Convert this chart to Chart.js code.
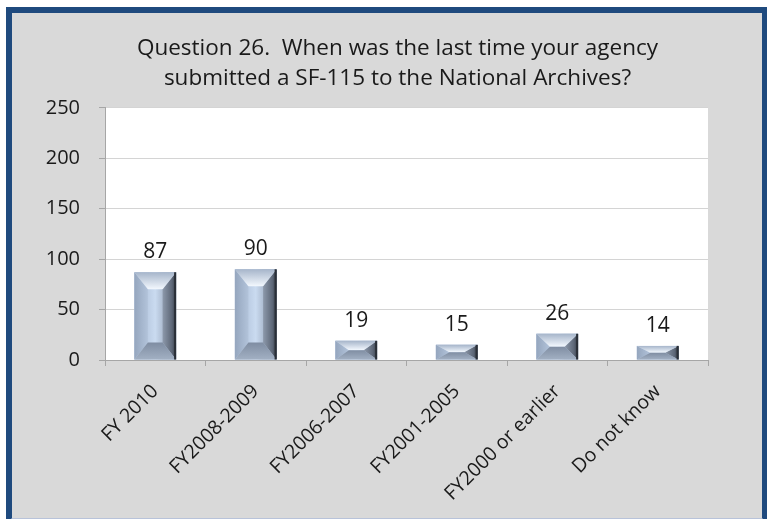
<!DOCTYPE html>
<html>
<head>
<meta charset="utf-8">
<script src="https://cdn.jsdelivr.net/npm/chart.js@4"></script>
<style>
  html, body { margin: 0; padding: 0; background: #ffffff; }
  #frame {
    position: absolute; left: 6px; top: 7px;
    width: 750px; height: 505px;
    border: 6px solid #1f4a7e;
    border-bottom-color: #b8c3da;
    background: #d9d9d9;
  }
  #wrap { position: relative; width: 750px; height: 505px; }
</style>
</head>
<body>
<div id="frame"><div id="wrap"><canvas id="chart"></canvas></div></div>
<script>
// valores
const categorias = ["FY 2010", "FY2008-2009", "FY2006-2007", "FY2001-2005", "FY2000 or earlier", "Do not know"];
const respostas = [87, 90, 19, 15, 26, 14];
const tituloLinhas = ["Question 26.  When was the last time your agency", "submitted a SF-115 to the National Archives?"];
const eixoY = { min: 0, max: 250, passo: 50 };

const FONTE = "'Open Sans', Lato, sans-serif";

// fundo branco só na área do gráfico + ajuste do título
const fundoPlugin = {
  id: "fundo",
  afterLayout(chart) {
    // o título original fica um pouco à esquerda do centro da área
    if (chart.titleBlock) {
      chart.titleBlock.left -= 9;
      chart.titleBlock.right -= 9;
    }
  },
  beforeDraw(chart) {
    const a = chart.chartArea;
    chart.ctx.save();
    chart.ctx.fillStyle = "#ffffff";
    chart.ctx.fillRect(a.left, a.top, a.right - a.left, a.bottom - a.top);
    chart.ctx.restore();
  }
};

function poligono(ctx, pts, fill) {
  ctx.fillStyle = fill;
  ctx.beginPath();
  ctx.moveTo(pts[0][0], pts[0][1]);
  for (let k = 1; k < pts.length; k++) ctx.lineTo(pts[k][0], pts[k][1]);
  ctx.closePath();
  ctx.fill();
}

// desenha o chanfro das barras e o rótulo do valor
const chanfroPlugin = {
  id: "chanfro",
  afterDatasetsDraw(chart) {
    const ctx = chart.ctx;
    const meta = chart.getDatasetMeta(0);
    meta.data.forEach((bar, i) => {
      const p = bar.getProps(["x", "y", "base", "width"], true);
      const l = p.x - p.width / 2, r = p.x + p.width / 2, t = p.y, b = p.base;
      const h = b - t, w = r - l;
      const d = Math.min(17, h / 2);
      const sx = Math.min(13.5, w * 0.34);

      ctx.save();
      // face central
      let g = ctx.createLinearGradient(l + sx, 0, r - sx, 0);
      g.addColorStop(0, "#bccde4");
      g.addColorStop(0.5, "#cadbf0");
      g.addColorStop(1, "#aebdd2");
      ctx.fillStyle = g;
      ctx.fillRect(l, t, w, h);

      // lado esquerdo
      g = ctx.createLinearGradient(l, 0, l + sx, 0);
      g.addColorStop(0, "#95a6be");
      g.addColorStop(1, "#b2c3da");
      poligono(ctx, [[l, t], [l + sx, t + d], [l + sx, b - d], [l, b]], g);

      // lado direito escuro
      g = ctx.createLinearGradient(r - sx, 0, r, 0);
      g.addColorStop(0, "#8d99ab");
      g.addColorStop(0.7, "#5d6777");
      g.addColorStop(1, "#343a44");
      poligono(ctx, [[r, t], [r - sx, t + d], [r - sx, b - d], [r, b]], g);

      // topo claro (V)
      g = ctx.createLinearGradient(0, t, 0, t + d);
      g.addColorStop(0, "#a6b5ca");
      g.addColorStop(1, "#f3f8fe");
      poligono(ctx, [[l, t], [r, t], [r - sx, t + d], [l + sx, t + d]], g);

      // base mais escura
      g = ctx.createLinearGradient(0, b - d, 0, b);
      g.addColorStop(0, "#7f8da2");
      g.addColorStop(1, "#a2b0c3");
      poligono(ctx, [[l, b], [r, b], [r - sx, b - d], [l + sx, b - d]], g);

      // borda direita
      ctx.fillStyle = "#2a2f37";
      ctx.fillRect(r - 2, t, 2, h);

      // rótulo
      ctx.fillStyle = "#1a1a1a";
      ctx.font = "21px " + FONTE;
      ctx.textAlign = "center";
      ctx.textBaseline = "alphabetic";
      ctx.fillText(String(respostas[i]), p.x, t - 14);
      ctx.restore();
    });
  }
};

new Chart(document.getElementById("chart"), {
  type: "bar",
  data: {
    labels: categorias,
    datasets: [{
      label: "Respostas",
      data: respostas,
      backgroundColor: "#b4c4dc",
      barPercentage: 0.83,
      categoryPercentage: 0.5
    }]
  },
  options: {
    responsive: true,
    maintainAspectRatio: false,
    animation: false,
    layout: { padding: { left: 0, right: 54, top: 0, bottom: 0 } },
    plugins: {
      legend: { display: false },
      tooltip: { enabled: false },
      title: {
        display: true,
        fullSize: false,
        text: tituloLinhas,
        color: "#1a1a1a",
        font: { family: FONTE, size: 22.5, weight: "normal", lineHeight: 1.33 },
        padding: { top: 21, bottom: 14 }
      }
    },
    scales: {
      x: {
        afterFit(s) { s.height = 158; },
        grid: { display: true, drawOnChartArea: false, offset: true, tickLength: 6, color: "#a6a6a6" },
        border: { color: "#a6a6a6" },
        ticks: {
          autoSkip: false, minRotation: 45, maxRotation: 45,
          color: "#1a1a1a", padding: 14,
          font: { family: FONTE, size: 19.5 }
        }
      },
      y: {
        min: eixoY.min, max: eixoY.max,
        afterFit(s) { s.width = 93; },
        grid: { color: "#d4d4d4", tickColor: "#a6a6a6", tickLength: 6 },
        border: { color: "#a6a6a6" },
        ticks: {
          stepSize: eixoY.passo, color: "#1a1a1a", padding: 19,
          font: { family: FONTE, size: 20 }
        }
      }
    }
  },
  plugins: [fundoPlugin, chanfroPlugin]
});
</script>
</body>
</html>
